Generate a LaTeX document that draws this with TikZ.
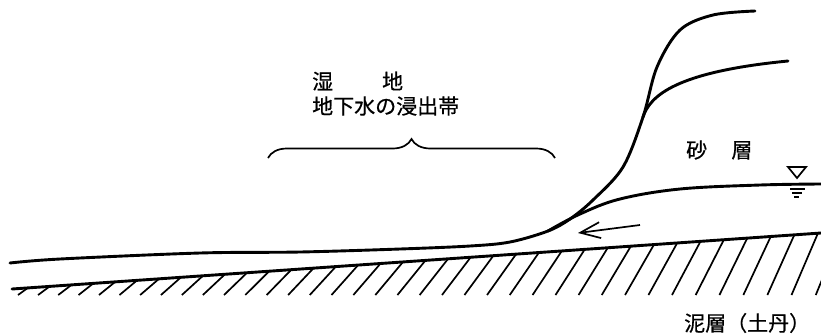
\documentclass[tikz,border=0pt]{standalone}
\usepackage{fontspec}
\newfontfamily\jp[FakeBold=0.6]{Noto Sans CJK JP}
\usetikzlibrary{arrows.meta,decorations.pathreplacing}

\tikzset{
  layer/.style={line width=2.9pt,line cap=round,line join=round},
  thin/.style={line width=1.7pt},
  lbl/.style={font=\jp\fontsize{21}{24}\selectfont,inner sep=0pt},
}

\begin{document}
\begin{tikzpicture}[x=1pt,y=-1pt]
  \useasboundingbox (0,0) rectangle (821,333);

  \coordinate (fork) at (643,117);
  \coordinate (toe) at (548,231);

  % ground surface rising into the dune
  \draw[layer] plot[smooth,tension=0.55] coordinates {(10,263) (60,259) (200,253) (300,252) (400,249) (470,246) (510,242) (548,231) (570,219) (593,200) (623,167) (fork) (657,67) (680,30) (713,15) (755,11)};
  \draw[layer] (fork) .. controls (650,96) and (675,72) .. (788,61);

  % water table
  \draw[layer] plot[smooth,tension=0.6] coordinates {(toe) (580,214) (620,199) (680,189) (760,185) (821,184)};
  \draw[thin] (788,167) -- (806,167) -- (797,178) -- cycle;
  \draw[thin] (790,189) -- (805,189);
  \draw[thin] (792,193) -- (802,193);
  \draw[thin] (794,197) -- (799,197);

  % seepage flow
  \coordinate (flowA) at (640,225);
  \coordinate (flowB) at (578,233);
  \draw[thin,-{Straight Barb[length=20pt,width=16pt]}] (flowA) -- (flowB);

  % top of the mud layer
  \draw[layer] (12,289) -- (821,233);
  \begin{scope}
    \clip (12,289) -- (821,233) -- (821,296) -- (12,296) -- cycle;
    \foreach \i in {0,...,37}{
      \pgfmathsetmacro\hx{18+20*\i+0.06*\i*\i}
      \pgfmathsetmacro\ha{35+0.0402*\hx}
      \draw[thin] (\hx,295) -- ++({90/tan(\ha)},-90);
    }
  \end{scope}

  % wetland span
  \draw[thin,decorate,decoration={brace,amplitude=19pt}] (268,158) -- (555,158);

  \node[lbl,anchor=west] (wet) at (312,81) {湿\hspace{2.33em}地};
  \node[lbl,anchor=west] (seep) at (312,106) {地下水の浸出帯};
  \node[lbl,anchor=west] (sand) at (686,150) {砂\hspace{1.15em}層};
  \node[lbl,anchor=west] (mud) at (684,323) {泥層（土丹）};
\end{tikzpicture}
\end{document}
